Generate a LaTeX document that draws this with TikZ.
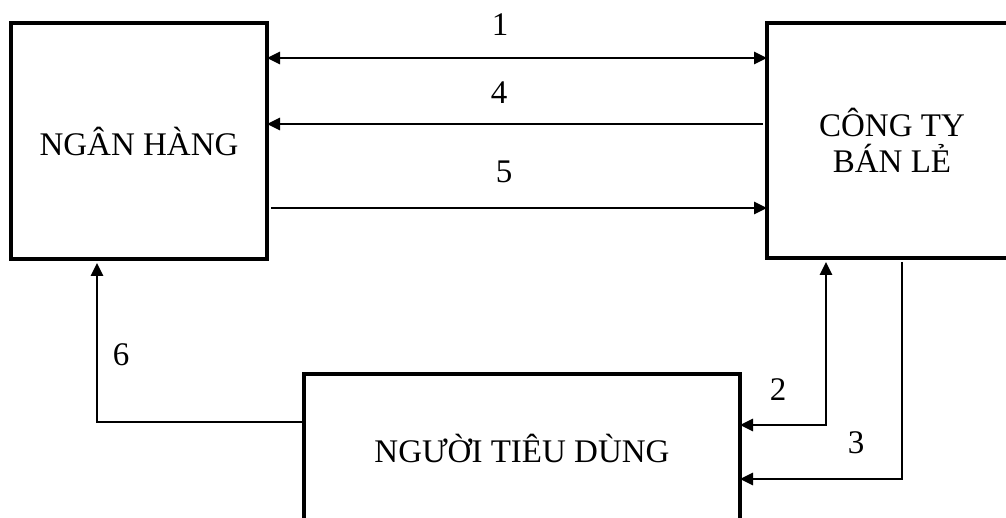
\documentclass[tikz,border=0pt]{standalone}
\usepackage{fontspec}
\setmainfont{Liberation Serif}
\usetikzlibrary{arrows.meta,calc}
\begin{document}
\begin{tikzpicture}[x=1pt,y=-1pt,
  box/.style={draw,line width=3.3pt,rectangle,inner sep=0pt,outer sep=0pt,
    font=\fontsize{33}{36}\selectfont,align=center},
  lbl/.style={font=\fontsize{33}{36}\selectfont,inner sep=0pt},
  conn/.style={line width=2.8pt,-{Triangle[length=13pt,width=12pt]}},
  both/.style={line width=2.8pt,{Triangle[length=13pt,width=12pt]}-{Triangle[length=13pt,width=12pt]}},
]
\useasboundingbox (0,0) rectangle (1006,518);
\begin{scope}
\clip (0,0) rectangle (1006,518);
\node[box,minimum width=256pt,minimum height=236pt] (bank) at (139,141) {NGÂN HÀNG};
\node[box,minimum width=250pt,minimum height=235pt] (retail) at (892,140.5) {CÔNG TY\\BÁN LẺ};
\node[box,minimum width=436pt,minimum height=148pt] (consumer) at (522,448) {NGƯỜI TIÊU DÙNG};
\end{scope}
\coordinate (y1) at (0,58);
\coordinate (y4) at (0,124);
\coordinate (y5) at (0,208);
\coordinate (y6) at (0,422);
\coordinate (y2) at (0,425);
\coordinate (y3) at (0,479);
\coordinate (x6) at (97,0);
\coordinate (x2) at (826,0);
\coordinate (x3) at (902,0);
\draw[both] (bank.east |- y1) -- (retail.west |- y1);
\draw[conn,shorten <=4pt] (retail.west |- y4) -- (bank.east |- y4);
\draw[conn,shorten <=4pt] (bank.east |- y5) -- (retail.west |- y5);
\draw[conn,shorten >=4pt] (consumer.west |- y6) -| (bank.south -| x6);
\draw[both,shorten <=4pt] (retail.south -| x2) |- (consumer.east |- y2);
\draw[conn,shorten <=4pt] (retail.south -| x3) |- (consumer.east |- y3);
\node[lbl] (l1) at (500,25) {1};
\node[lbl] (l4) at (499,93) {4};
\node[lbl] (l5) at (504,172) {5};
\node[lbl] (l6) at (121,355) {6};
\node[lbl] (l2) at (778,390) {2};
\node[lbl] (l3) at (856,443) {3};
\end{tikzpicture}
\end{document}
